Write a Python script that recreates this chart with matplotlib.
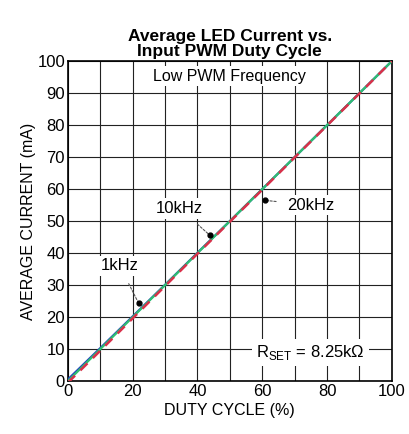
import matplotlib.pyplot as plt

plt.rcParams['font.family'] = ['Liberation Sans', 'DejaVu Sans']
plt.rcParams['mathtext.fontset'] = 'custom'
plt.rcParams['mathtext.rm'] = 'Liberation Sans'

duty = [0, 10, 20, 30, 40, 50, 60, 70, 80, 90, 100]
cur_1k = [0.5, 10.3, 20.2, 30.1, 40.1, 50.0, 60.0, 70.0, 80.0, 90.0, 100.0]
cur_10k = [0.0, 10.0, 20.0, 30.0, 40.0, 50.0, 60.0, 70.0, 80.0, 90.0, 100.0]
cur_20k = [-0.5, 9.5, 19.6, 29.7, 39.8, 49.8, 59.8, 69.9, 79.9, 89.9, 100.0]

fig = plt.figure(figsize=(4.09, 4.34), dpi=100)
ax = fig.add_axes([0.166, 0.122, 0.792, 0.737])

ax.plot(duty, cur_1k, color='#1f3fbf', lw=1.6, zorder=3)
ax.plot(duty, cur_10k, color='#2fbf6f', lw=1.6, zorder=3)
ax.plot(duty, cur_20k, '--', color='#d9304a', lw=1.8, dashes=(4, 3), zorder=4)

ax.set_xlim(0, 100)
ax.set_ylim(0, 100)
ax.set_xticks(range(0, 101, 20))
ax.set_xticks(range(0, 101, 10), minor=True)
ax.set_yticks(range(0, 101, 10))
ax.grid(True, which='both', color='#222222', lw=0.8)
ax.tick_params(axis='x', labelsize=12, length=0, pad=2)
ax.tick_params(axis='y', labelsize=12, length=0, pad=2)
ax.tick_params(which='minor', length=0)
for s in ax.spines.values():
    s.set_linewidth(1.2)

ax.set_xlabel('DUTY CYCLE (%)', fontsize=11.5, labelpad=3)
ax.set_ylabel('AVERAGE CURRENT (mA)', fontsize=11.5, labelpad=1)
ax.set_title('Average LED Current vs.\nInput PWM Duty Cycle', fontsize=12.5,
             fontweight='bold', linespacing=0.95, pad=4)

box = dict(facecolor='white', edgecolor='none', pad=2)
ax.text(50, 95.3, 'Low PWM Frequency', ha='center', va='center', fontsize=11.5, bbox=box, zorder=5)
ax.text(75, 9, r'R$_{\mathrm{SET}}$ = 8.25k$\Omega$', ha='center', va='center', fontsize=12,
        bbox=dict(facecolor='white', edgecolor='none', pad=3), zorder=5)

labels = ['1kHz', '10kHz', '20kHz']
text_pos = [(16, 36), (34.5, 54), (75, 55)]
tips = [(21.8, 24.4), (43.8, 45.6), (60.8, 56.5)]
for lab, tp, tip in zip(labels, text_pos, tips):
    ax.annotate(lab, xy=tip, xytext=tp, ha='center', va='center', fontsize=12,
                bbox=box, zorder=6,
                arrowprops=dict(arrowstyle='-', ls=(0, (2, 1.5)), color='#555555', lw=0.8,
                                shrinkA=6, shrinkB=0))
    ax.plot(*tip, 'o', color='black', ms=3.5, zorder=7)

fig.savefig('out.png', dpi=100)
